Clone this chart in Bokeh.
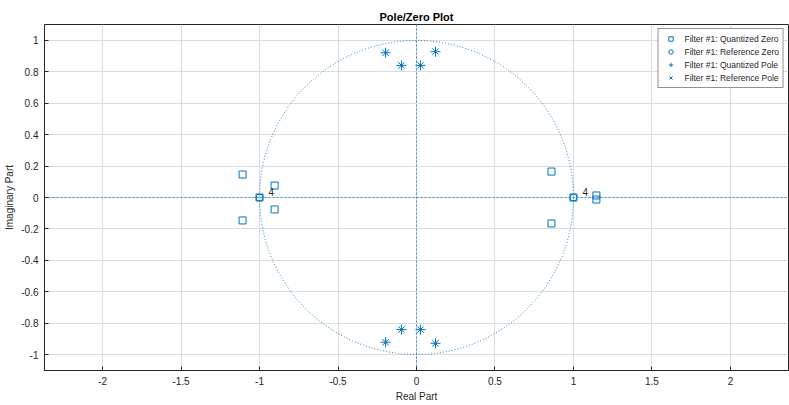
from bokeh.plotting import figure
from bokeh.models import Range1d, FixedTicker, Legend, LegendItem, ColumnDataSource, Span
from bokeh.core.properties import value
from bokeh.embed import file_html
from bokeh.resources import INLINE

BLUE = "#0072BD"
FONT = "Liberation Sans"

# Quantized zeros (squares)
qz_re = [-1.108, -1.108, -0.904, -0.904, -1.0, 0.86, 0.86, 1.146, 1.146, 1.0]
qz_im = [0.146, -0.146, 0.076, -0.076, 0.0, 0.165, -0.165, 0.013, -0.013, 0.0]
# Reference zeros (circles), multiplicity 4
rz_re = [-1.0, 1.0]
rz_im = [0.0, 0.0]
rz_mult = ["4", "4"]
# Quantized poles (+)
qp_re = [-0.197, 0.121, -0.096, 0.025, -0.197, 0.121, -0.096, 0.025]
qp_im = [0.920, 0.927, 0.840, 0.840, -0.920, -0.927, -0.840, -0.840]
# Reference poles (x)
rp_re = [-0.197, 0.121, -0.096, 0.025, -0.197, 0.121, -0.096, 0.025]
rp_im = [0.920, 0.927, 0.840, 0.840, -0.920, -0.927, -0.840, -0.840]

x_ticks = [-2, -1.5, -1, -0.5, 0, 0.5, 1, 1.5, 2]
y_ticks = [-1, -0.8, -0.6, -0.4, -0.2, 0, 0.2, 0.4, 0.6, 0.8, 1]
x_tick_labels = ["-2", "-1.5", "-1", "-0.5", "0", "0.5", "1", "1.5", "2"]
y_tick_labels = ["-1", "-0.8", "-0.6", "-0.4", "-0.2", "0", "0.2", "0.4", "0.6", "0.8", "1"]

X_LIM = (-2.37, 2.37)
Y_LIM = (-1.1, 1.1)

p = figure(frame_width=744, frame_height=346,
           x_range=Range1d(*X_LIM), y_range=Range1d(*Y_LIM),
           output_backend="svg", toolbar_location=None,
           min_border_left=44, min_border_right=1, min_border_top=24, min_border_bottom=0)

p.title.text = "Pole/Zero Plot"
p.title.align = "center"
p.title.text_font = FONT
p.title.text_font_size = "11px"
p.title.text_font_style = "bold"
p.title.text_color = "#000000"
p.title.standoff = 4

for ax in (p.xaxis[0], p.yaxis[0]):
    ax.major_label_text_font = FONT
    ax.major_label_text_font_size = "10px"
    ax.major_label_text_color = "#262626"
    ax.axis_label_text_font = FONT
    ax.axis_label_text_font_size = "10px"
    ax.axis_label_text_font_style = "normal"
    ax.axis_label_text_color = "#262626"
    ax.axis_line_color = "#262626"
    ax.major_tick_line_color = "#262626"
    ax.major_tick_in = 4
    ax.major_tick_out = 0
    ax.minor_tick_line_color = None
    ax.axis_label_standoff = 3
    ax.major_label_standoff = 6

p.xaxis.axis_label = "Real Part"
p.yaxis.axis_label = "Imaginary Part"
p.xaxis.ticker = FixedTicker(ticks=x_ticks)
p.yaxis.ticker = FixedTicker(ticks=y_ticks)
p.xaxis.major_label_overrides = {t: l for t, l in zip(x_ticks, x_tick_labels)}
p.yaxis.major_label_overrides = {t: l for t, l in zip(y_ticks, y_tick_labels)}

p.grid.grid_line_color = "#dcdcdc"
p.xgrid.ticker = FixedTicker(ticks=x_ticks)
p.ygrid.ticker = FixedTicker(ticks=y_ticks)
p.outline_line_color = "#262626"
p.outline_line_alpha = 1.0

# unit circle and axes lines
p.circle(x=[0], y=[0], radius=1, fill_color=None, line_color=BLUE,
         line_dash="1 2", line_width=1, line_alpha=0.9)
p.add_layout(Span(location=0, dimension="width", line_color="#3d8fcc",
                  line_dash="2 2", line_width=1, level="glyph"))
p.add_layout(Span(location=0, dimension="height", line_color="#3d8fcc",
                  line_dash="2 2", line_width=1, level="glyph"))

r_qz = p.scatter(qz_re, qz_im, marker="square", size=7, fill_color=None,
                 line_color=BLUE, line_width=1)
r_rz = p.scatter(rz_re, rz_im, marker="circle", size=7, fill_color=None,
                 line_color=BLUE, line_width=1)
r_qp = p.scatter(qp_re, qp_im, marker="cross", size=10, line_color=BLUE, line_width=1)
r_rp = p.scatter(rp_re, rp_im, marker="x", size=9, line_color=BLUE, line_width=1)

src = ColumnDataSource(dict(x=rz_re, y=rz_im, t=rz_mult))
p.text(x="x", y="y", text="t", source=src, x_offset=9, y_offset=-2,
       text_font=value(FONT), text_font_size="10px", text_color="#262626",
       text_baseline="bottom", text_align="left")

legend = Legend(items=[
    LegendItem(label="Filter #1: Quantized Zero", renderers=[r_qz]),
    LegendItem(label="Filter #1: Reference Zero", renderers=[r_rz]),
    LegendItem(label="Filter #1: Quantized Pole", renderers=[r_qp]),
    LegendItem(label="Filter #1: Reference Pole", renderers=[r_rp]),
], location="top_right")
legend.label_text_font = FONT
legend.label_text_font_size = "8.5px"
legend.label_text_color = "#262626"
legend.label_height = 11
legend.glyph_height = 11
legend.glyph_width = 16
legend.label_standoff = 6
legend.spacing = 2
legend.padding = 4
legend.margin = 4
legend.border_line_color = "#262626"
legend.border_line_width = 1
legend.background_fill_color = "white"
legend.background_fill_alpha = 1.0
p.add_layout(legend)

open("out.html", "w").write(file_html(p, INLINE))
